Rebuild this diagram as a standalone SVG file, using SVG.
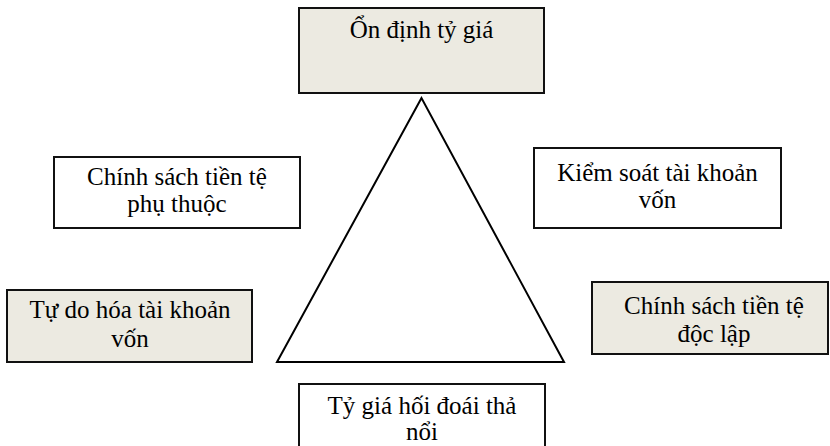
<svg xmlns="http://www.w3.org/2000/svg" width="830" height="446" viewBox="0 0 830 446">
<style>
.box{stroke:#111;stroke-width:2}
.beige{fill:#ECEAE1}
.white{fill:#fff}
.t{font-family:"Liberation Serif","Times New Roman",serif;font-size:25px;fill:#000;text-anchor:middle}
.tri{fill:#fff;stroke:#000;stroke-width:2;stroke-linejoin:miter}
</style>
<rect width="830" height="446" fill="#fff"/>
<g id="connectors">
<polygon class="tri" points="421.5,98 277,362 564,362"/>
</g>
<g id="n-top">
<rect class="box beige" x="299" y="8" width="245" height="85"/>
<text class="t" x="421.5" y="38">Ổn định tỷ giá</text>
</g>
<g id="n-left">
<rect class="box white" x="54" y="157" width="246" height="71"/>
<text class="t" x="177" y="185">Chính sách tiền tệ</text>
<text class="t" x="177" y="212">phụ thuộc</text>
</g>
<g id="n-right">
<rect class="box white" x="534" y="148" width="247" height="80"/>
<text class="t" x="657.5" y="181">Kiểm soát tài khoản</text>
<text class="t" x="657.5" y="208">vốn</text>
</g>
<g id="n-leftbottom">
<rect class="box beige" x="7" y="290" width="245" height="72"/>
<text class="t" x="130" y="318">Tự do hóa tài khoản</text>
<text class="t" x="130" y="347">vốn</text>
</g>
<g id="n-rightbottom">
<rect class="box beige" x="592" y="282" width="236" height="72"/>
<text class="t" x="714" y="314">Chính sách tiền tệ</text>
<text class="t" x="714" y="342">độc lập</text>
</g>
<g id="n-bottom">
<rect class="box white" x="299" y="384" width="246" height="80"/>
<text class="t" x="422" y="414">Tỷ giá hối đoái thả</text>
<text class="t" x="422" y="440">nổi</text>
</g>
</svg>
